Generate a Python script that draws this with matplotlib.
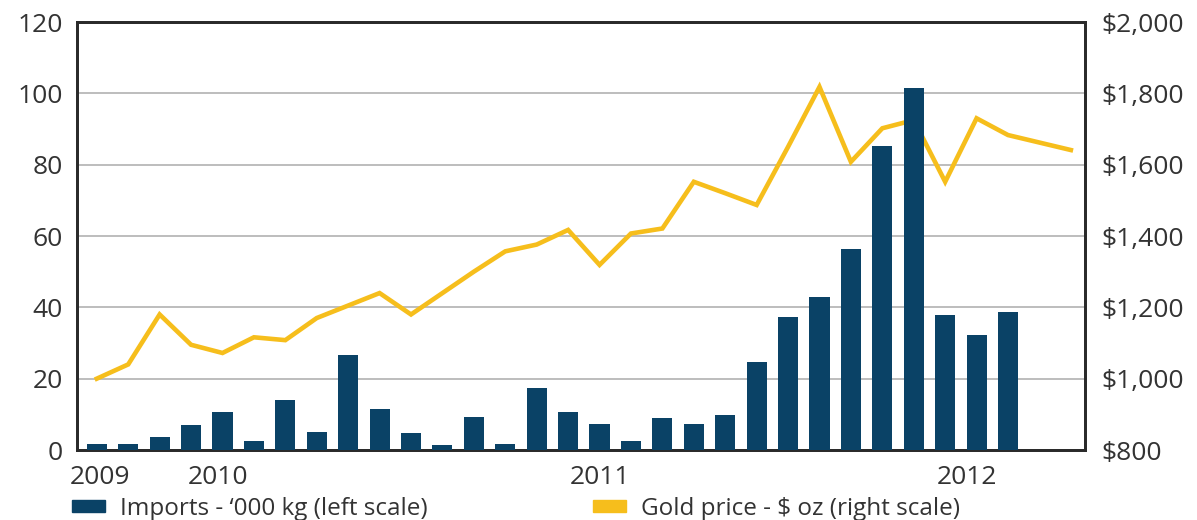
import matplotlib
matplotlib.use("Agg")
import matplotlib.pyplot as plt
from matplotlib.patches import Patch

# monthly, Sep 2009 .. Apr 2012
imports = [1.6, 1.6, 3.7, 7.0, 10.7, 2.6, 14.0, 5.0, 26.7, 11.4, 4.7, 1.3, 9.3, 1.7, 17.4,
           10.7, 7.3, 2.6, 8.9, 7.3, 9.7, 24.8, 37.4, 43.0, 56.3, 85.3, 101.5, 37.8, 32.2, 38.6]
gold = [1000, 1040, 1180, 1095, 1072, 1116, 1108, 1170, 1205, 1240, 1180, 1240, 1300, 1357,
        1376, 1417, 1319, 1407, 1421, 1552, 1520, 1487, 1650, 1818, 1608, 1702, 1725, 1552,
        1730, 1683, 1662, 1641]
year_labels = ['2009', '2010', '2011', '2012']
year_pos = [0.1, 3.85, 16.0, 27.7]
left_ticks = [0, 20, 40, 60, 80, 100, 120]
right_ticks = [800, 1000, 1200, 1400, 1600, 1800, 2000]

bar_col = '#0A4266'
gold_col = '#F6BE1C'
txt_col = '#333333'

plt.rcParams['font.family'] = ['Open Sans', 'DejaVu Sans']

fig = plt.figure(figsize=(11.97, 5.2), dpi=100)
ax2 = fig.add_axes([77/1197, 1-450/520, (1085-77)/1197, (450-22)/520])  # gold, right scale
ax = ax2.twinx()  # imports, left scale, drawn on top of the line
ax.yaxis.tick_left()
ax2.yaxis.tick_right()

ax2.plot(range(len(gold)), gold, color=gold_col, lw=3.3, solid_joinstyle='miter', zorder=3)
ax2.set_ylim(800, 2000)
ax2.set_yticks(right_ticks)
ax2.set_yticklabels(['${:,}'.format(v) for v in right_ticks])
ax2.grid(axis='y', color='#BDBDBD', lw=1.4)
ax2.set_axisbelow(True)

ax.bar(range(len(imports)), imports, width=0.64, color=bar_col, zorder=3)
ax.set_ylim(0, 120)
ax.set_yticks(left_ticks)
ax.set_xlim(-0.63, 31.45)

ax2.set_xticks(year_pos)
ax2.set_xticklabels(year_labels)

for a in (ax, ax2):
    a.tick_params(length=0, labelsize=19, colors=txt_col)
    for s in a.spines.values():
        s.set_color('#2a2a2a')
        s.set_linewidth(2)
ax.tick_params(axis='y', pad=10)
ax2.tick_params(axis='y', pad=12)
ax2.tick_params(axis='x', pad=11)

handles = [Patch(color=bar_col), Patch(color=gold_col)]
labels = ["Imports - \u2018000 kg (left scale)", "Gold price - $ oz (right scale)"]
fig.legend(handles, labels, ncol=2, loc='center left', bbox_to_anchor=(0.050, 0.022),
           frameon=False, fontsize=17.5, labelcolor=txt_col, handlelength=1.36,
           handleheight=0.4, handletextpad=0.62, columnspacing=6.8, borderpad=0)

fig.savefig('out.png', dpi=100)
